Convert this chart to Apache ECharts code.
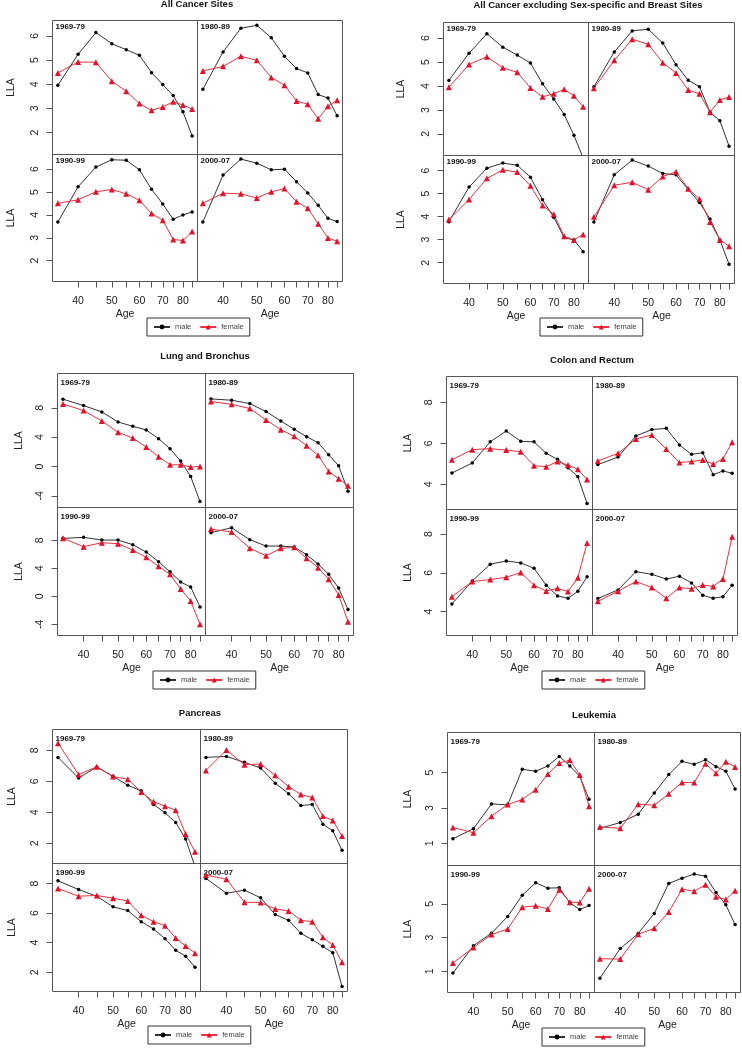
<!DOCTYPE html>
<html><head><meta charset="utf-8">
<script src="https://cdn.jsdelivr.net/npm/echarts@6/dist/echarts.min.js"></script>
<style>html,body{margin:0;padding:0;background:#fff}#c{width:742px;height:1048px}</style>
</head><body><div id="c"></div>
<script>
// ---------- categories / ticks ----------
const ages = [35, 40, 45, 50, 55, 60, 65, 70, 75, 80, 85];
const periods = ['1969-79', '1980-89', '1990-99', '2000-07'];
const sexes = ['male', 'female'];
const xTickAges = [40, 45, 50, 55, 60, 65, 70, 75, 80, 85];
const xLabelAges = [40, 50, 60, 70, 80];
const titles = ['All Cancer Sites', 'All Cancer excluding Sex-specific and Breast Sites',
  'Lung and Bronchus', 'Colon and Rectum', 'Pancreas', 'Leukemia'];
const yTicksAll = [2, 3, 4, 5, 6];
const yTicksExcl = [2, 3, 4, 5, 6];
const yTicksLung = [-4, 0, 4, 8];
const yTicksColon = [4, 6, 8];
const yTicksPancreas = [2, 4, 6, 8];
const yTicksLeuk = [1, 3, 5];

// ---------- All Cancer Sites ----------
const all_m_1969 = [3.96, 5.24, 6.14, 5.68, 5.43, 5.20, 4.48, 3.99, 3.53, 2.86, 1.86];
const all_f_1969 = [4.47, 4.92, 4.91, 4.12, 3.71, 3.20, 2.92, 3.06, 3.27, 3.14, 2.97];
const all_m_1980 = [3.79, 5.34, 6.32, 6.44, 5.93, 5.16, 4.65, 4.47, 3.57, 3.43, 2.69];
const all_f_1980 = [4.55, 4.74, 5.16, 4.99, 4.28, 3.96, 3.31, 3.17, 2.57, 3.09, 3.34];
const all_m_1990 = [3.69, 5.23, 6.09, 6.41, 6.39, 5.97, 5.12, 4.48, 3.81, 4.00, 4.13];
const all_f_1990 = [4.51, 4.66, 5.01, 5.11, 4.92, 4.64, 4.06, 3.77, 2.93, 2.88, 3.27];
const all_m_2000 = [3.69, 5.74, 6.44, 6.26, 5.97, 6.00, 5.45, 4.96, 4.42, 3.85, 3.71];
const all_f_2000 = [4.51, 4.95, 4.92, 4.74, 5.01, 5.15, 4.58, 4.29, 3.61, 2.99, 2.85];

// ---------- All Cancer excluding Sex-specific and Breast Sites ----------
const exc_m_1969 = [4.23, 5.37, 6.18, 5.62, 5.29, 4.96, 4.09, 3.46, 2.81, 1.94, 1.00];
const exc_f_1969 = [3.95, 4.90, 5.22, 4.76, 4.57, 3.92, 3.55, 3.68, 3.86, 3.59, 3.13];
const exc_m_1980 = [3.97, 5.42, 6.30, 6.37, 5.79, 4.89, 4.24, 3.97, 2.91, 2.55, 1.49];
const exc_f_1980 = [3.91, 5.07, 5.95, 5.74, 4.97, 4.54, 3.83, 3.68, 2.91, 3.42, 3.54];
const exc_m_1990 = [3.78, 5.28, 6.10, 6.32, 6.23, 5.71, 4.73, 3.97, 3.09, 2.99, 2.48];
const exc_f_1990 = [3.87, 4.74, 5.66, 6.03, 5.93, 5.34, 4.48, 4.10, 3.15, 2.99, 3.23];
const exc_m_2000 = [3.77, 5.81, 6.45, 6.19, 5.87, 5.81, 5.18, 4.61, 3.90, 2.99, 1.93];
const exc_f_2000 = [3.99, 5.36, 5.49, 5.17, 5.74, 5.94, 5.21, 4.76, 3.77, 2.99, 2.72];

// ---------- Lung and Bronchus ----------
const lung_m_1969 = [9.19, 8.32, 7.45, 6.08, 5.49, 4.99, 3.80, 2.43, 0.74, -1.36, -4.79];
const lung_f_1969 = [8.55, 7.63, 6.22, 4.67, 3.89, 2.66, 1.33, 0.24, 0.24, -0.08, 0.00];
const lung_m_1980 = [9.23, 9.05, 8.59, 7.50, 6.22, 5.08, 4.07, 3.25, 1.61, 0.09, -3.37];
const lung_f_1980 = [8.87, 8.50, 7.91, 6.36, 5.03, 4.12, 2.84, 1.52, -0.68, -1.68, -2.64];
const lung_m_1990 = [8.29, 8.43, 8.05, 8.05, 7.38, 6.33, 4.95, 3.52, 2.05, 1.33, -1.52];
const lung_f_1990 = [8.29, 7.10, 7.67, 7.52, 6.62, 5.57, 4.29, 3.14, 1.05, -0.67, -4.00];
const lung_m_2000 = [9.10, 9.81, 8.10, 7.19, 7.19, 7.05, 5.95, 4.62, 3.14, 1.19, -1.90];
const lung_f_2000 = [9.62, 9.19, 6.86, 5.81, 6.86, 7.00, 5.43, 4.10, 2.43, 0.19, -3.62];

// ---------- Colon and Rectum ----------
const col_m_1969 = [4.55, 5.04, 6.07, 6.60, 6.10, 6.07, 5.51, 5.22, 4.81, 4.37, 3.06];
const col_f_1969 = [5.20, 5.69, 5.74, 5.67, 5.59, 4.91, 4.86, 5.11, 4.94, 4.73, 4.23];
const col_m_1980 = [4.96, 5.33, 6.36, 6.67, 6.73, 5.92, 5.46, 5.54, 4.47, 4.65, 4.54];
const col_f_1980 = [5.14, 5.51, 6.21, 6.41, 5.72, 5.06, 5.11, 5.19, 4.99, 5.24, 6.05];
const col_m_1990 = [4.39, 5.58, 6.44, 6.61, 6.51, 6.23, 5.36, 4.81, 4.69, 5.05, 5.79];
const col_f_1990 = [4.77, 5.55, 5.65, 5.77, 6.01, 5.36, 5.06, 5.20, 5.03, 5.75, 7.54];
const col_m_2000 = [4.67, 5.12, 6.06, 5.92, 5.68, 5.82, 5.48, 4.84, 4.69, 4.77, 5.36];
const col_f_2000 = [4.53, 5.05, 5.55, 5.24, 4.69, 5.24, 5.18, 5.37, 5.30, 5.68, 7.86];

// ---------- Pancreas ----------
const pan_m_1969 = [7.55, 6.22, 6.93, 6.33, 5.75, 5.39, 4.51, 3.97, 3.35, 2.28, 0.50];
const pan_f_1969 = [8.47, 6.44, 6.95, 6.31, 6.14, 5.32, 4.68, 4.40, 4.14, 2.60, 1.46];
const pan_m_1980 = [7.55, 7.61, 7.23, 6.86, 5.88, 5.21, 4.44, 4.51, 3.24, 2.81, 1.55];
const pan_f_1980 = [6.71, 8.02, 7.08, 7.12, 6.39, 5.66, 5.15, 4.96, 3.76, 3.48, 2.47];
const pan_m_1990 = [8.18, 7.59, 7.14, 6.42, 6.17, 5.42, 4.92, 4.27, 3.48, 3.09, 2.34];
const pan_f_1990 = [7.66, 7.14, 7.19, 7.00, 6.82, 5.85, 5.42, 5.15, 4.31, 3.77, 3.29];
const pan_m_2000 = [8.34, 7.34, 7.55, 7.03, 5.90, 5.51, 4.63, 4.20, 3.75, 3.32, 1.03];
const pan_f_2000 = [8.57, 8.29, 6.73, 6.71, 6.28, 6.14, 5.51, 5.42, 4.36, 3.84, 2.68];

// ---------- Leukemia ----------
const leu_m_1969 = [1.26, 1.83, 3.23, 3.18, 5.19, 5.08, 5.38, 5.92, 5.38, 4.79, 3.50];
const leu_f_1969 = [1.90, 1.60, 2.54, 3.20, 3.48, 4.04, 4.92, 5.54, 5.71, 4.87, 3.10];
const leu_m_1980 = [1.85, 2.18, 2.65, 3.85, 4.89, 5.64, 5.47, 5.73, 5.34, 5.08, 4.08];
const leu_f_1980 = [1.94, 1.85, 3.22, 3.16, 3.80, 4.44, 4.44, 5.51, 4.96, 5.62, 5.32];
const leu_m_1990 = [0.90, 2.52, 3.26, 4.25, 5.51, 6.25, 5.93, 5.95, 5.06, 4.66, 4.90];
const leu_f_1990 = [1.50, 2.41, 3.18, 3.51, 4.80, 4.88, 4.70, 5.83, 5.10, 5.08, 5.89];
const leu_m_2000 = [0.60, 2.35, 3.24, 4.43, 6.21, 6.52, 6.76, 6.64, 5.67, 4.94, 3.77];
const leu_f_2000 = [1.75, 1.73, 3.20, 3.55, 4.52, 5.87, 5.75, 6.13, 5.42, 5.26, 5.77];

// ---------- layout (positions / styles only) ----------
const FONT = "'Liberation Sans', Arial, sans-serif";
const panels = [
  { title: titles[0], yTicks: yTicksAll, yRange: [1.09, 6.64],
    box: { L: 52.5, D: 197.5, R: 342.5, T: 20.5, M: 154.5, B: 281.5 },
    titlePos: [197, -1], labelDy: 2, legendPos: [147, 318], llaGap: 36,
    male: [all_m_1969, all_m_1980, all_m_1990, all_m_2000],
    female: [all_f_1969, all_f_1980, all_f_1990, all_f_2000] },
  { title: titles[1], yTicks: yTicksExcl, yRange: [1.1, 6.65],
    box: { L: 443.5, D: 588.5, R: 734.5, T: 22.5, M: 155.5, B: 283.5 },
    titlePos: [588, 0], labelDy: 2, legendPos: [540, 318], llaGap: 37,
    male: [exc_m_1969, exc_m_1980, exc_m_1990, exc_m_2000],
    female: [exc_f_1969, exc_f_1980, exc_f_1990, exc_f_2000] },
  { title: titles[2], yTicks: yTicksLung, yRange: [-5.6, 12.7],
    box: { L: 57.5, D: 205.5, R: 353.5, T: 373.5, M: 507.5, B: 635.5 },
    titlePos: [205, 351.5], labelDy: 5, legendPos: [153, 671], llaGap: 33,
    male: [lung_m_1969, lung_m_1980, lung_m_1990, lung_m_2000],
    female: [lung_f_1969, lung_f_1980, lung_f_1990, lung_f_2000] },
  { title: titles[3], yTicks: yTicksColon, yRange: [2.77, 9.26],
    box: { L: 446.5, D: 592.5, R: 737.5, T: 376.5, M: 509.5, B: 635.5 },
    titlePos: [592, 355.5], labelDy: 5, legendPos: [542, 671], llaGap: 33,
    male: [col_m_1969, col_m_1980, col_m_1990, col_m_2000],
    female: [col_f_1969, col_f_1980, col_f_1990, col_f_2000] },
  { title: titles[4], yTicks: yTicksPancreas, yRange: [0.7, 9.35],
    box: { L: 52.5, D: 200.5, R: 347.5, T: 729.5, M: 863.5, B: 991.5 },
    titlePos: [200, 708], labelDy: 5, legendPos: [148, 1026], llaGap: 35,
    male: [pan_m_1969, pan_m_1980, pan_m_1990, pan_m_2000],
    female: [pan_f_1969, pan_f_1980, pan_f_1990, pan_f_2000] },
  { title: titles[5], yTicks: yTicksLeuk, yRange: [-0.25, 7.27],
    box: { L: 447.5, D: 594.5, R: 740.5, T: 732.5, M: 865.5, B: 992.5 },
    titlePos: [594, 710.5], labelDy: 5, legendPos: [542, 1028], llaGap: 34,
    male: [leu_m_1969, leu_m_1980, leu_m_1990, leu_m_2000],
    female: [leu_f_1969, leu_f_1980, leu_f_1990, leu_f_2000] }
];

const lnLo = Math.log(ages[0]), lnHi = Math.log(ages[ages.length - 1]);
const xMin = lnLo - 0.04 * (lnHi - lnLo), xMax = lnHi + 0.04 * (lnHi - lnLo);

const sexStyle = {
  male: { symbol: 'circle', symbolSize: 3.5, color: '#000', line: '#333' },
  female: { symbol: 'triangle', symbolSize: 6, color: '#e3122a', line: '#f0303c' }
};

const grids = [], xAxes = [], yAxes = [], series = [], gfx = [], titleArr = [], legends = [];
panels.forEach(p => {
  const b = p.box;
  const cells = [
    [b.L, b.T, b.D - b.L, b.M - b.T], [b.D, b.T, b.R - b.D, b.M - b.T],
    [b.L, b.M, b.D - b.L, b.B - b.M], [b.D, b.M, b.R - b.D, b.B - b.M]
  ];
  titleArr.push({ text: p.title, left: p.titlePos[0], top: p.titlePos[1], textAlign: 'center', padding: 0,
    textStyle: { fontFamily: FONT, fontSize: 9.5, fontWeight: 'bold', color: '#111' } });
  cells.forEach((c, ci) => {
    const gi = grids.length;
    const bottomRow = ci >= 2, leftCol = ci % 2 === 0;
    grids.push({ left: c[0], top: c[1], width: c[2], height: c[3], show: true,
      borderColor: '#555', borderWidth: 1, backgroundColor: 'transparent' });
    xAxes.push({ type: 'value', gridIndex: gi, min: xMin, max: xMax, position: 'bottom',
      axisLine: { show: false, onZero: false }, splitLine: { show: false },
      axisTick: { show: bottomRow, customValues: xTickAges.map(a => Math.log(a)), length: 6,
        lineStyle: { color: '#555' } },
      axisLabel: { show: bottomRow, customValues: xLabelAges.map(a => Math.log(a)),
        formatter: v => String(Math.round(Math.exp(v))), margin: 14, fontSize: 10.5,
        color: '#222', fontFamily: FONT },
      name: bottomRow ? 'Age' : '', nameLocation: 'middle', nameGap: 27,
      nameTextStyle: { fontSize: 10.5, color: '#222', fontFamily: FONT } });
    yAxes.push({ type: 'value', gridIndex: gi, min: p.yRange[0], max: p.yRange[1], position: 'left',
      axisLine: { show: false, onZero: false }, splitLine: { show: false },
      axisTick: { show: leftCol, customValues: p.yTicks, length: 6, lineStyle: { color: '#555' } },
      axisLabel: { show: leftCol, customValues: p.yTicks, rotate: 90, margin: 12, fontSize: 10.5,
        color: '#222', fontFamily: FONT },
      name: leftCol ? 'LLA' : '', nameLocation: 'middle', nameGap: p.llaGap,
      nameTextStyle: { fontSize: 10.5, color: '#222', fontFamily: FONT } });
    sexes.forEach(sex => {
      const st = sexStyle[sex];
      series.push({ type: 'line', name: sex, xAxisIndex: gi, yAxisIndex: gi,
        data: ages.map((a, i) => [Math.log(a), p[sex][ci][i]]),
        symbol: st.symbol, symbolSize: st.symbolSize, showSymbol: true, clip: true,
        itemStyle: { color: st.color }, lineStyle: { color: st.line, width: 1 },
        emphasis: { disabled: true }, animation: false });
    });
    gfx.push({ type: 'text', x: c[0] + 3, y: c[1] + p.labelDy,
      style: { text: periods[ci], fontFamily: FONT, fontSize: 8, fontWeight: 'bold',
        fill: '#111', verticalAlign: 'top' } });
  });
  legends.push({ left: p.legendPos[0], top: p.legendPos[1], data: sexes, orient: 'horizontal',
    itemWidth: 16, itemHeight: 6, itemGap: 8, padding: [5, 6, 5, 6],
    borderColor: '#333', borderWidth: 1, borderRadius: 0, selectedMode: false,
    textStyle: { fontSize: 7.5, color: '#444', fontFamily: FONT } });
});

const chart = echarts.init(document.getElementById('c'), null, { renderer: 'canvas' });
chart.setOption({
  animation: false,
  backgroundColor: '#fff',
  title: titleArr,
  legend: legends,
  grid: grids,
  xAxis: xAxes,
  yAxis: yAxes,
  series: series,
  graphic: { elements: gfx }
});
</script>
</body></html>
